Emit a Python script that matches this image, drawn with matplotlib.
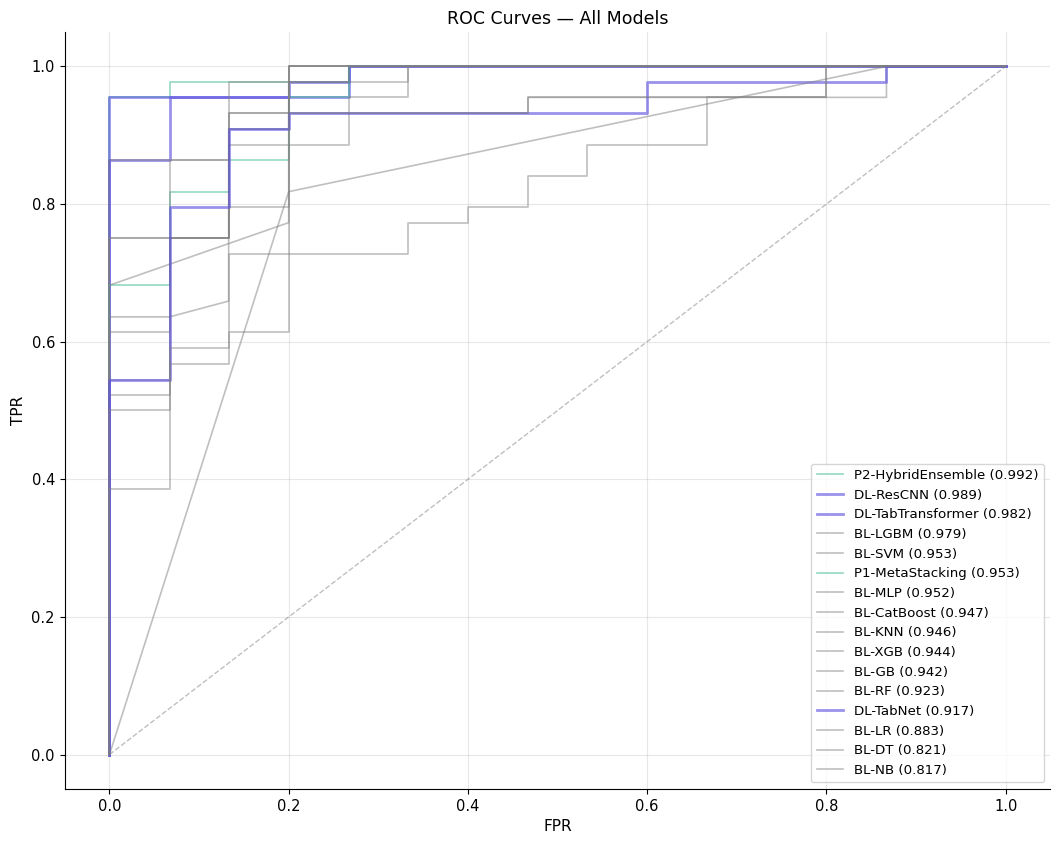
import matplotlib
matplotlib.use("Agg")
import matplotlib.pyplot as plt

# model names and AUC, sorted as in the legend
models = ["P2-HybridEnsemble", "DL-ResCNN", "DL-TabTransformer", "BL-LGBM", "BL-SVM",
          "P1-MetaStacking", "BL-MLP", "BL-CatBoost", "BL-KNN", "BL-XGB", "BL-GB",
          "BL-RF", "DL-TabNet", "BL-LR", "BL-DT", "BL-NB"]
aucs = [0.992, 0.989, 0.982, 0.979, 0.953, 0.953, 0.952, 0.947, 0.946, 0.944,
        0.942, 0.923, 0.917, 0.883, 0.821, 0.817]

# ROC points (fpr, tpr)
fpr_p2 = [0, 0, 0.067, 0.067, 0.267, 0.267, 1]
tpr_p2 = [0, 0.955, 0.955, 0.977, 0.977, 1, 1]

fpr_rescnn = [0, 0, 0.2, 0.2, 0.267, 0.267, 1]
tpr_rescnn = [0, 0.955, 0.955, 0.977, 0.977, 1, 1]

fpr_tabtr = [0, 0, 0.067, 0.067, 0.267, 0.267, 1]
tpr_tabtr = [0, 0.864, 0.864, 0.955, 0.955, 1, 1]

fpr_lgbm = [0, 0, 0.133, 0.133, 0.333, 0.333, 1]
tpr_lgbm = [0, 0.864, 0.864, 0.977, 0.977, 1, 1]

fpr_svm = [0, 0, 0.133, 0.133, 0.2, 0.2, 1]
tpr_svm = [0, 0.75, 0.75, 0.932, 0.932, 1, 1]

fpr_p1 = [0, 0, 0.067, 0.067, 0.133, 0.133, 0.2, 0.2, 0.267, 0.267, 1]
tpr_p1 = [0, 0.682, 0.682, 0.818, 0.818, 0.864, 0.864, 0.955, 0.955, 1, 1]

fpr_mlp = [0, 0, 0.067, 0.067, 0.133, 0.133, 0.267, 0.267, 0.333, 0.333, 1]
tpr_mlp = [0, 0.75, 0.75, 0.864, 0.864, 0.886, 0.886, 0.955, 0.955, 1, 1]

fpr_cat = [0, 0, 0.067, 0.067, 0.133, 0.133, 0.2, 0.2, 1]
tpr_cat = [0, 0.614, 0.614, 0.75, 0.75, 0.932, 0.932, 1, 1]

fpr_knn = [0, 0, 0.067, 0.133, 0.133, 0.2, 0.2, 0.267, 0.267, 1]
tpr_knn = [0, 0.636, 0.636, 0.659, 0.909, 0.909, 0.977, 0.977, 1, 1]

fpr_xgb = [0, 0, 0.067, 0.067, 0.133, 0.133, 0.2, 0.2, 1]
tpr_xgb = [0, 0.523, 0.523, 0.75, 0.75, 0.795, 0.795, 1, 1]

fpr_gb = [0, 0, 0.067, 0.067, 0.133, 0.133, 0.2, 0.2, 1]
tpr_gb = [0, 0.545, 0.545, 0.75, 0.75, 0.909, 0.909, 1, 1]

fpr_rf = [0, 0, 0.2, 0.2, 0.467, 0.467, 0.867, 0.867, 1]
tpr_rf = [0, 0.682, 0.773, 0.932, 0.932, 0.955, 0.955, 1, 1]

fpr_tabnet = [0, 0, 0.067, 0.067, 0.133, 0.133, 0.2, 0.2, 0.6, 0.6, 0.867, 0.867, 1]
tpr_tabnet = [0, 0.545, 0.545, 0.795, 0.795, 0.909, 0.909, 0.932, 0.932, 0.977, 0.977, 1, 1]

fpr_lr = [0, 0, 0.067, 0.067, 0.133, 0.133, 0.2, 0.2, 0.467, 0.467, 0.8, 0.8, 1]
tpr_lr = [0, 0.5, 0.5, 0.591, 0.591, 0.614, 0.614, 0.932, 0.932, 0.955, 0.955, 1, 1]

fpr_dt = [0, 0.2, 0.867, 1]
tpr_dt = [0, 0.818, 1, 1]

fpr_nb = [0, 0, 0.067, 0.067, 0.133, 0.133, 0.333, 0.333, 0.4, 0.4, 0.467, 0.467,
          0.533, 0.533, 0.667, 0.667, 0.8, 0.8, 1]
tpr_nb = [0, 0.386, 0.386, 0.568, 0.568, 0.727, 0.727, 0.773, 0.773, 0.795, 0.795, 0.841,
          0.841, 0.886, 0.886, 0.955, 0.955, 1, 1]

curves = [(fpr_p2, tpr_p2), (fpr_rescnn, tpr_rescnn), (fpr_tabtr, tpr_tabtr),
          (fpr_lgbm, tpr_lgbm), (fpr_svm, tpr_svm), (fpr_p1, tpr_p1),
          (fpr_mlp, tpr_mlp), (fpr_cat, tpr_cat), (fpr_knn, tpr_knn),
          (fpr_xgb, tpr_xgb), (fpr_gb, tpr_gb), (fpr_rf, tpr_rf),
          (fpr_tabnet, tpr_tabnet), (fpr_lr, tpr_lr), (fpr_dt, tpr_dt), (fpr_nb, tpr_nb)]

fig, ax = plt.subplots(figsize=(10.6, 8.42), dpi=100)
fig.subplots_adjust(left=0.061, right=0.991, bottom=0.063, top=0.962)

for name, auc, (fx, ty) in zip(models, aucs, curves):
    if name.startswith("P"):
        ax.plot(fx, ty, color="#3cb88e", alpha=0.55, lw=1.2, label=f"{name} ({auc:.3f})")
    elif name.startswith("DL"):
        ax.plot(fx, ty, color="#5b50e0", alpha=0.62, lw=2.0, label=f"{name} ({auc:.3f})")
    else:
        ax.plot(fx, ty, color="gray", alpha=0.5, lw=1.2, label=f"{name} ({auc:.3f})")

ax.plot([0, 1], [0, 1], ls="--", color="gray", alpha=0.5, lw=1)

ax.set_title("ROC Curves — All Models", fontsize=12.5)
ax.set_xlabel("FPR", fontsize=11)
ax.set_ylabel("TPR", fontsize=11)
ax.tick_params(labelsize=10.5)
ax.grid(True, alpha=0.3)
ax.spines["top"].set_visible(False)
ax.spines["right"].set_visible(False)
ax.legend(loc="lower right", fontsize=9.6, labelspacing=0.5)

plt.savefig("out.png", dpi=100)
